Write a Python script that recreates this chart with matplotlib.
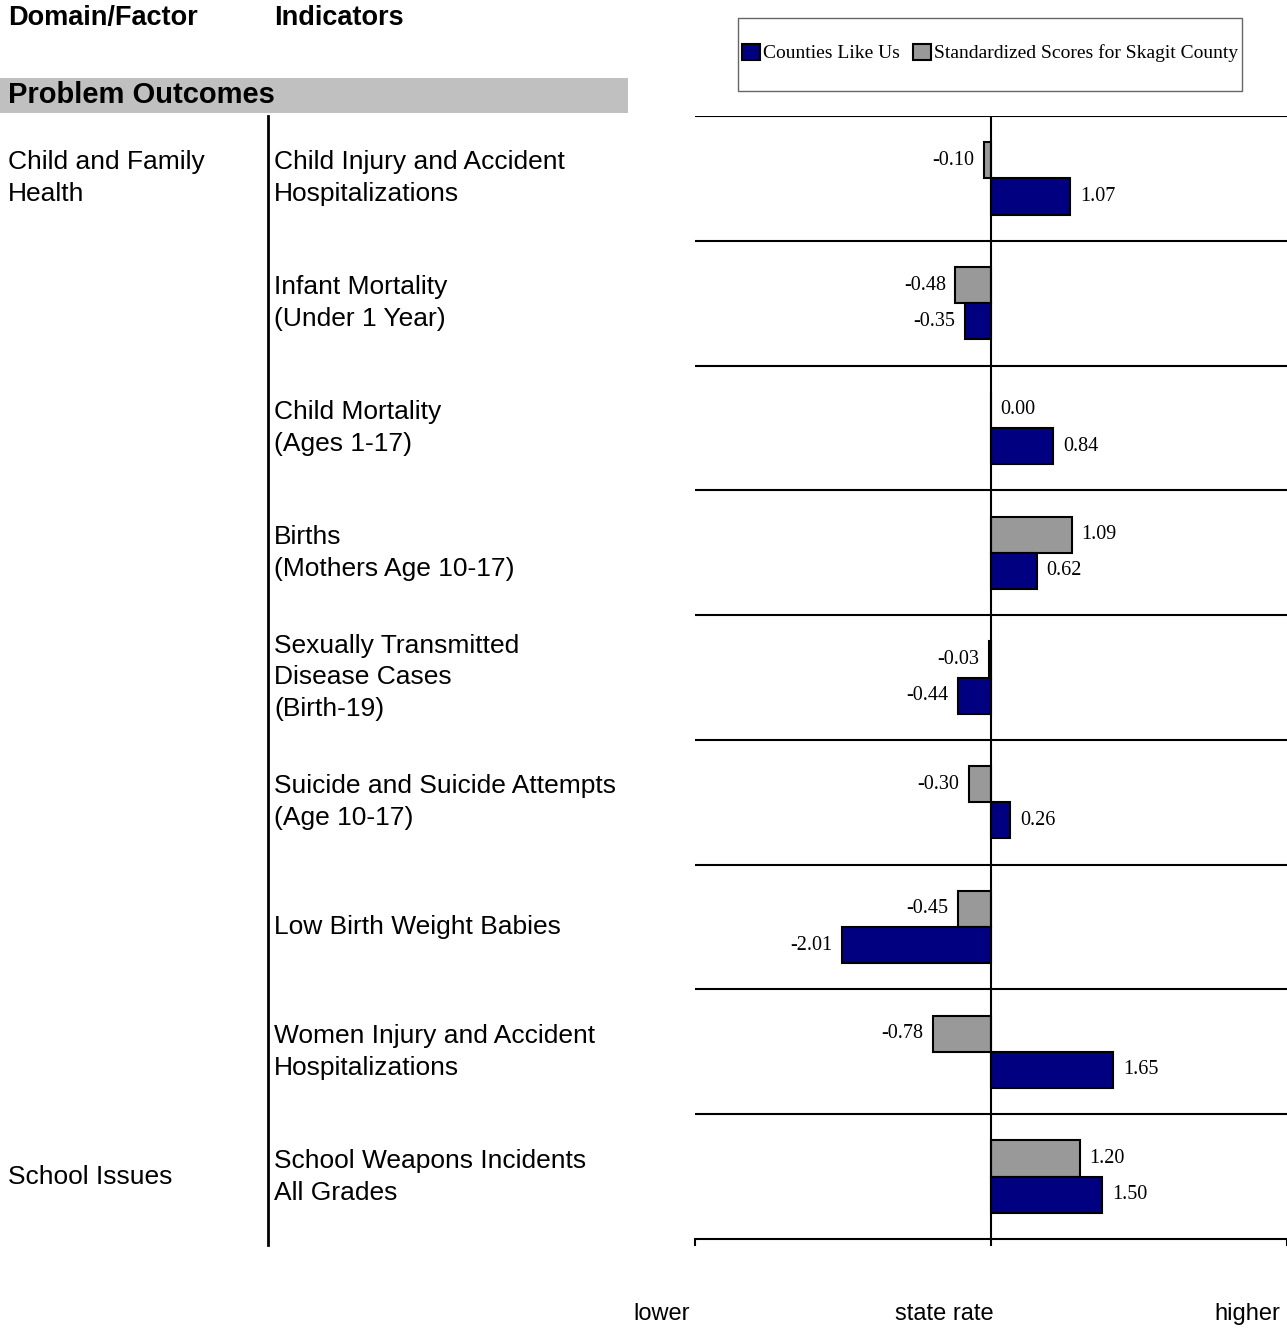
import matplotlib.pyplot as plt
from matplotlib.patches import Rectangle, Patch
from matplotlib.lines import Line2D
from matplotlib.transforms import blended_transform_factory

# data
indicators = [
    "Child Injury and Accident\nHospitalizations",
    "Infant Mortality\n(Under 1 Year)",
    "Child Mortality\n(Ages 1-17)",
    "Births\n(Mothers Age 10-17)",
    "Sexually Transmitted\nDisease Cases\n(Birth-19)",
    "Suicide and Suicide Attempts\n(Age 10-17)",
    "Low Birth Weight Babies",
    "Women Injury and Accident\nHospitalizations",
    "School Weapons Incidents\nAll Grades",
]
skagit = [-0.10, -0.48, 0.00, 1.09, -0.03, -0.30, -0.45, -0.78, 1.20]
counties = [1.07, -0.35, 0.84, 0.62, -0.44, 0.26, -2.01, 1.65, 1.50]
domains = ["Child and Family\nHealth", "School Issues"]
domain_rows = [0, 8]

W, H = 1287, 1329
fig = plt.figure(figsize=(W / 100, H / 100), dpi=100)

def fx(px):
    return px / W

def fy(py):
    return 1 - py / H

ax = fig.add_axes([fx(695), fy(1239), fx(1287) - fx(695), fy(116) - fy(1239)])

navy = "#000080"
grey = "#999999"
h = 0.29
n = len(indicators)
ys = list(range(n))

ax.barh([y - h / 2 for y in ys], skagit, height=h, color=grey, edgecolor="black", linewidth=1.5, zorder=3)
ax.barh([y + h / 2 for y in ys], counties, height=h, color=navy, edgecolor="black", linewidth=1.5, zorder=3)

for y, v in zip(ys, skagit):
    off = 7 if v >= 0 else -7
    ax.annotate(f"{v:.2f}", (v, y - h / 2), xytext=(off, 0), textcoords="offset points",
                ha="left" if v >= 0 else "right", va="center", fontsize=14.5, family="Liberation Serif")
for y, v in zip(ys, counties):
    off = 7 if v >= 0 else -7
    ax.annotate(f"{v:.2f}", (v, y + h / 2), xytext=(off, 0), textcoords="offset points",
                ha="left" if v >= 0 else "right", va="center", fontsize=14.5, family="Liberation Serif")

ax.set_xlim(-4, 4)
ax.set_ylim(n - 0.5, -0.5)
ax.hlines([i - 0.5 for i in range(n)], -4, 4, color="black", linewidth=1.5, zorder=2)
ax.axvline(0, color="black", linewidth=1.5, zorder=4)
for s in ["top", "left", "right"]:
    ax.spines[s].set_visible(False)
ax.spines["bottom"].set_linewidth(1.5)
ax.set_yticks([])
ax.set_xticks([-4, 0, 4])
ax.set_xticklabels([])
ax.tick_params(axis="x", direction="out", length=5, width=1.5)

# left-hand table
sans = "Liberation Sans"
fig.text(fx(8), fy(18), "Domain/Factor", fontsize=19.5, fontweight="bold", family=sans, va="center")
fig.text(fx(274), fy(18), "Indicators", fontsize=19.5, fontweight="bold", family=sans, va="center")
fig.patches.append(Rectangle((0, fy(113)), fx(628), fy(78) - fy(113), transform=fig.transFigure,
                             facecolor="#C0C0C0", edgecolor="none"))
fig.text(fx(8), fy(95), "Problem Outcomes", fontsize=21, fontweight="bold", family=sans, va="center")
fig.lines.append(Line2D([fx(268), fx(268)], [fy(116), fy(1245)], transform=fig.transFigure,
                        color="black", linewidth=2))

tr = blended_transform_factory(fig.transFigure, ax.transData)
for y, lab in zip(ys, indicators):
    fig.text(fx(274), y, lab, transform=tr, fontsize=19, family=sans, va="center", linespacing=1.42)
fig.text(fx(8), domain_rows[0], domains[0], transform=tr, fontsize=19, family=sans,
         va="center", linespacing=1.42)
fig.text(fx(8), domain_rows[1], domains[1], transform=tr, fontsize=19, family=sans, va="center")

# scale captions
fig.text(fx(662), fy(1314), "lower", fontsize=17, family=sans, ha="center", va="center")
fig.text(fx(944), fy(1314), "state rate", fontsize=17, family=sans, ha="center", va="center")
fig.text(fx(1247), fy(1314), "higher", fontsize=17, family=sans, ha="center", va="center")

# legend
fig.patches.append(Rectangle((fx(738), fy(91)), fx(1242) - fx(738), fy(18) - fy(91),
                             transform=fig.transFigure, facecolor="white", edgecolor="#666666", linewidth=1))
handles = [Patch(facecolor=navy, edgecolor="black", linewidth=1.5),
           Patch(facecolor=grey, edgecolor="black", linewidth=1.5)]
fig.legend(handles, ["Counties Like Us", "Standardized Scores for Skagit County"], ncol=2,
           loc="center", bbox_to_anchor=(fx(990), fy(53)), frameon=False,
           prop={"family": "Liberation Serif", "size": 14}, handlelength=0.9, handleheight=0.9,
           handletextpad=0.15, columnspacing=0.7)

fig.savefig("out.png", dpi=100)
